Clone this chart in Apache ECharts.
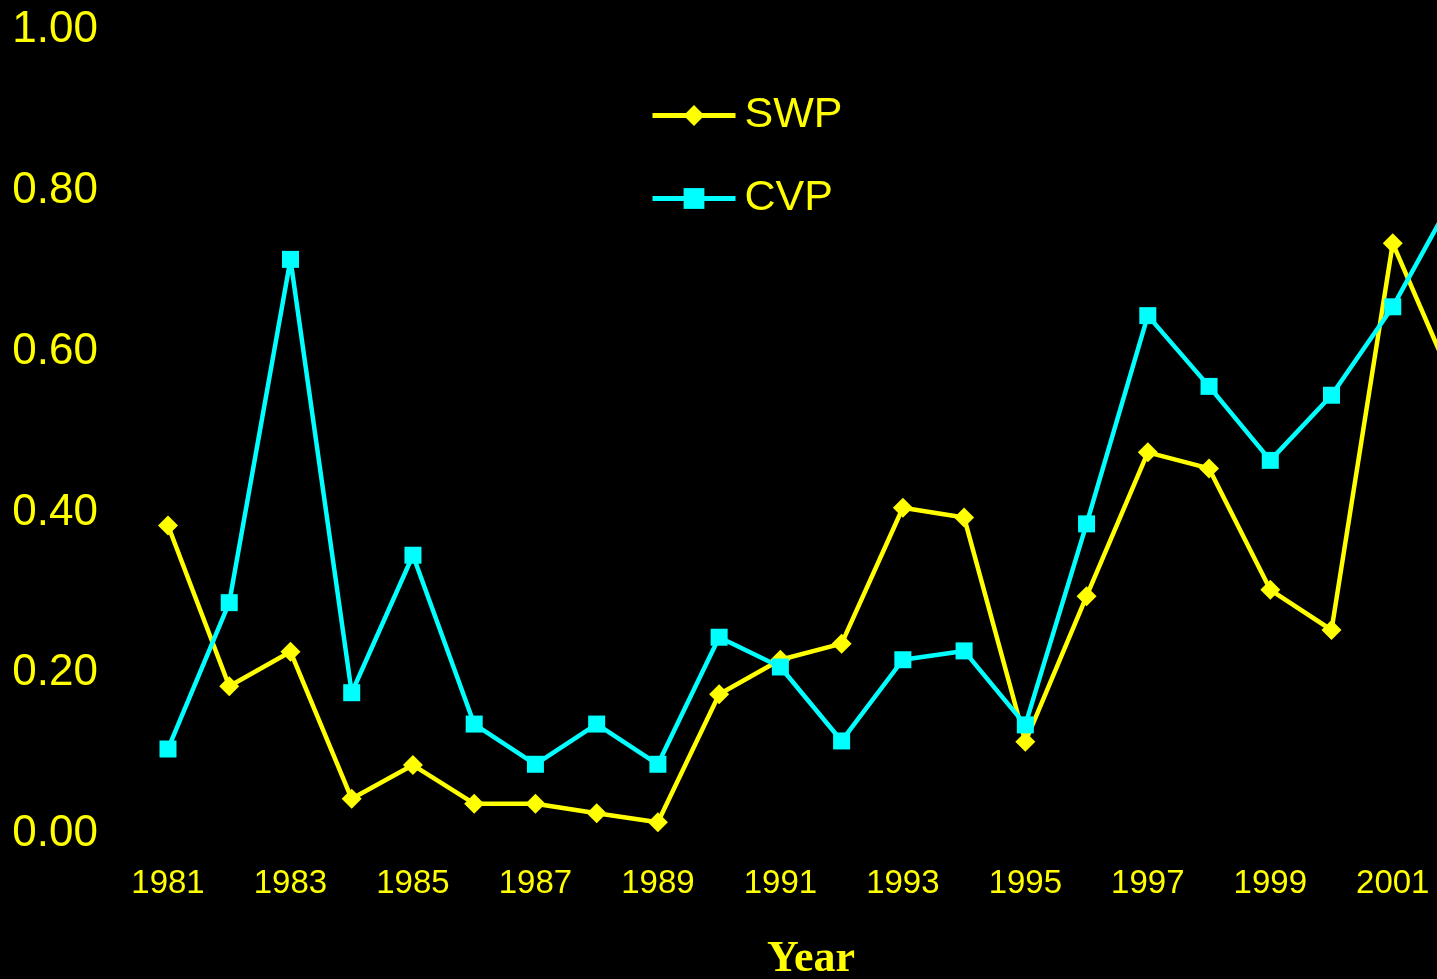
<!DOCTYPE html>
<html>
<head>
<meta charset="utf-8">
<style>
  html, body { margin: 0; padding: 0; background: #000; }
  #chart { width: 1437px; height: 979px; }
</style>
<script src="https://cdn.jsdelivr.net/npm/echarts@6/dist/echarts.min.js"></script>
</head>
<body>
<div id="chart"></div>
<script>
const years = ['1981', '1982', '1983', '1984', '1985', '1986', '1987', '1988', '1989', '1990', '1991',
  '1992', '1993', '1994', '1995', '1996', '1997', '1998', '1999', '2000', '2001', '2002']
const swp = [0.38, 0.18, 0.223, 0.04, 0.082, 0.034, 0.034, 0.022, 0.011, 0.17, 0.213,
  0.233, 0.402, 0.39, 0.111, 0.292, 0.471, 0.451, 0.30, 0.25, 0.731, 0.555]
const cvp = [0.102, 0.284, 0.711, 0.172, 0.343, 0.133, 0.083, 0.133, 0.083, 0.241, 0.204,
  0.112, 0.213, 0.224, 0.132, 0.382, 0.641, 0.553, 0.461, 0.542, 0.652, 0.79]
const yTicks = [0, 0.2, 0.4, 0.6, 0.8, 1.0]

const yellow = '#ffff00'
const cyan = '#00ffff'

const chart = echarts.init(document.getElementById('chart'))
chart.setOption({
  backgroundColor: '#000',
  animation: false,
  // the 2002 point sits past the right edge, so the grid runs off the canvas
  grid: { left: 168, top: 27, width: 1286, height: 804, containLabel: false, outerBoundsMode: 'none' },
  legend: {
    orient: 'vertical',
    left: 645,
    top: 89,
    itemWidth: 83,
    itemHeight: 26,
    itemGap: 40,
    lineStyle: { width: 5 },
    textStyle: { color: yellow, fontSize: 43, fontFamily: 'Liberation Sans', padding: [0, 0, 0, 4] },
    data: ['SWP', 'CVP']
  },
  xAxis: {
    type: 'category',
    data: years,
    boundaryGap: false,
    axisLine: { show: false },
    axisTick: { show: false },
    splitLine: { show: false },
    axisLabel: {
      interval: 1,
      color: yellow,
      fontSize: 33,
      fontFamily: 'Liberation Sans',
      margin: 36
    },
    name: 'Year',
    nameLocation: 'middle',
    nameGap: 107,
    nameTextStyle: { color: yellow, fontSize: 44, fontWeight: 'bold', fontFamily: 'Liberation Serif' }
  },
  yAxis: {
    type: 'value',
    min: yTicks[0],
    max: yTicks[yTicks.length - 1],
    interval: 0.2,
    axisLine: { show: false },
    axisTick: { show: false },
    splitLine: { show: false },
    axisLabel: {
      color: yellow,
      fontSize: 44,
      fontFamily: 'Liberation Sans',
      margin: 70,
      formatter: v => '{v|' + v.toFixed(2) + '}',
      rich: {
        v: { color: yellow, fontSize: 44, fontFamily: 'Liberation Sans', padding: [6, 0, 0, 0] }
      }
    }
  },
  series: [
    {
      name: 'SWP',
      type: 'line',
      data: swp,
      symbol: 'diamond',
      symbolSize: 20,
      lineStyle: { color: yellow, width: 4.5 },
      itemStyle: { color: yellow }
    },
    {
      name: 'CVP',
      type: 'line',
      data: cvp,
      symbol: 'rect',
      symbolSize: 17,
      lineStyle: { color: cyan, width: 4.5 },
      itemStyle: { color: cyan }
    }
  ]
})
</script>
</body>
</html>
